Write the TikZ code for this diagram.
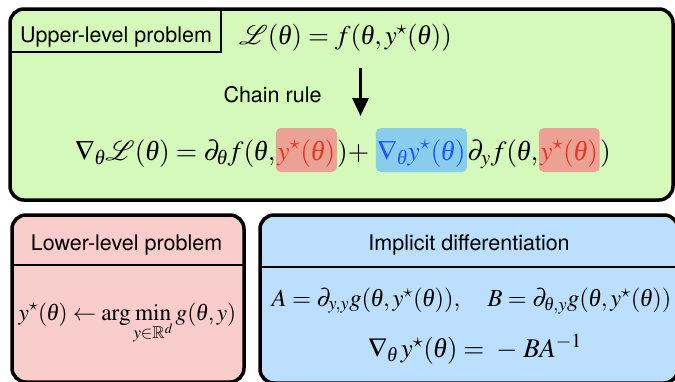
\documentclass[tikz,border=0pt]{standalone}
\usepackage{amsmath}
\usepackage{amssymb}
\usepackage{mathptmx}
\usepackage{mathrsfs}
\DeclareFontFamily{U}{rsfs}{\skewchar\font127 }
\DeclareFontShape{U}{rsfs}{m}{n}{<-> rsfs10}{}
\usepackage[no-math]{fontspec}
\newfontfamily\hv{TeX Gyre Heros}
\newfontfamily\lserif{Liberation Serif}
\renewcommand\theta{\text{\lserif\itshape θ}}
\usetikzlibrary{arrows.meta}
\definecolor{upgreen}{RGB}{213,249,186}
\definecolor{lopink}{RGB}{248,205,204}
\definecolor{loblue}{RGB}{187,223,252}
\definecolor{hlred}{RGB}{235,162,148}
\definecolor{hlblue}{RGB}{137,205,236}
\definecolor{redtxt}{RGB}{230,55,35}
\definecolor{bluetxt}{RGB}{28,88,248}
\newcommand\fsz[1]{\fontsize{#1}{#1}\selectfont}
\begin{document}
\begin{tikzpicture}[x=1pt,y=-1pt,
  panel/.style={draw=black, line width=3.5pt, rounded corners=14pt, outer sep=0pt, inner sep=0pt, anchor=north west},
  sep/.style={line width=2.3pt},
  title/.style={font=\hv\fsz{21.5}, inner sep=0pt, anchor=base},
  eq/.style={font=\fsz{27.6}, inner sep=0pt, anchor=base west},
  eqs/.style={font=\fsz{24.5}, inner sep=0pt, anchor=base},
  hl/.style={inner xsep=1.5pt, inner ysep=0pt, text height=32pt, text depth=12pt, rounded corners=5pt, anchor=base west, font=\fsz{27.6}},
  hlr/.style={hl, fill=hlred, text=redtxt},
  hlb/.style={hl, fill=hlblue, text=bluetxt}]
\useasboundingbox (0,0) rectangle (675,381);
% panels
\node[panel, fill=upgreen, minimum width=663pt, minimum height=191pt] (upper) at (10,9) {};
\node[panel, fill=lopink, minimum width=232pt, minimum height=167pt] (lower) at (12,215) {};
\node[panel, fill=loblue, minimum width=418pt, minimum height=168pt] (impl) at (260,215) {};
% label of upper panel
\node[inner sep=0pt, outer sep=0pt, minimum width=211pt, minimum height=43pt, anchor=north west] (ulabel) at (10,9) {};
\draw[line width=2.5pt] (ulabel.north east) -- (ulabel.south east) -- (ulabel.south west);
\node[title] (ultext) at (116,42) {Upper-level problem};
% separators
\draw[sep] (lower.west |- 0,265) -- (lower.east |- 0,265);
\draw[sep] (impl.west |- 0,267) -- (impl.east |- 0,267);
% upper content
\node[font=\fsz{27}, inner sep=0pt, anchor=base] (loss) at (345.5,44) {$\mathscr{L}(\theta) = f(\theta, y^\star(\theta))$};
\node[title] (chain) at (272.5,102) {Chain rule};
\coordinate (arrtop) at (360.5,68);
\coordinate (arrbot) at (360.5,116);
\draw[line width=3pt, -{Triangle[width=16pt,length=18pt]}] (arrtop) -- (arrbot);
\node[eq] (m1) at (75,160) {$\nabla_\theta\mathscr{L}(\theta) = \partial_\theta f(\theta,$};
\node[hlr] (m2) at (m1.base east) {$y^\star(\theta)$};
\node[eq] (m3) at (m2.base east) {$)+\;$};
\node[hlb] (m4) at (m3.base east) {$\nabla_\theta y^\star(\theta)$};
\node[eq] (m5) at (m4.base east) {$\partial_y f(\theta,$};
\node[hlr] (m6) at (m5.base east) {$y^\star(\theta)$};
\node[eq] (m7) at (m6.base east) {$)$};
% lower-level
\node[title] (lotitle) at (126.5,250) {Lower-level problem};
\node[eqs, font=\fsz{23.3}] (argmin) at (127.5,320) {$\displaystyle y^\star(\theta) \leftarrow \arg\min_{y\in\mathbb{R}^d} g(\theta, y)$};
% implicit differentiation
\node[title] (imtitle) at (469,250) {Implicit differentiation};
\node[eqs] (ab) at (471.5,306) {$A = \partial_{y,y} g(\theta, y^\star(\theta)),\quad B = \partial_{\theta,y} g(\theta, y^\star(\theta))$};
\node[eqs, font=\fsz{27}] (grad) at (475,357) {$\nabla_\theta\, y^\star(\theta) = \;-\;BA^{-1}$};
\end{tikzpicture}
\end{document}
